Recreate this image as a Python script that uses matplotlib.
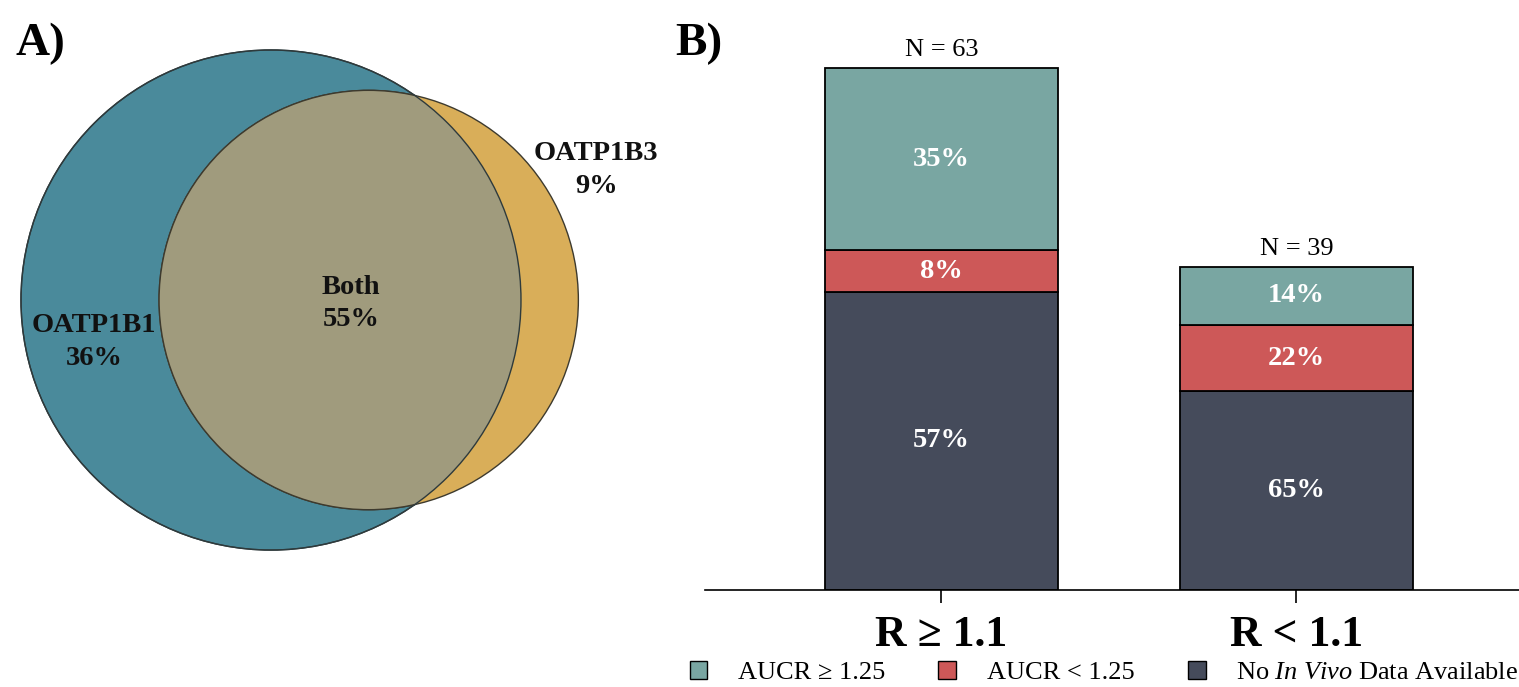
import numpy as np
import matplotlib.pyplot as plt
from matplotlib.patches import Circle, Patch

plt.rcParams['font.family'] = ['Liberation Serif', 'DejaVu Serif']
plt.rcParams['mathtext.fontset'] = 'custom'
plt.rcParams['mathtext.rm'] = 'Liberation Serif'
plt.rcParams['mathtext.it'] = 'Liberation Serif:italic'

# Panel A: Venn data (percent of substrates)
venn_labels = ['OATP1B1', 'Both', 'OATP1B3']
venn_values = [36, 55, 9]
venn_colors = ['#4a8a9b', '#a09b7d', '#d9ae59']

# Panel B: stacked bars (counts per group)
groups = ['R ≥ 1.1', 'R < 1.1']
totals = [63, 39]
series_names = ['AUCR ≥ 1.25', 'AUCR < 1.25', r'No $\mathit{In\ Vivo}$ Data Available']
no_data = [36, 24]
aucr_low = [5, 8]
aucr_high = [22, 7]
pct_no_data = ['57%', '65%']
pct_low = ['8%', '22%']
pct_high = ['35%', '14%']
bar_colors = ['#79a6a2', '#cd5858', '#454b5b']

fig = plt.figure(figsize=(15.19, 6.87), dpi=100)

# ---------- A) Venn ----------
ax1 = fig.add_axes([0, 0, 668/1519, 1])
ax1.set_xlim(-5.834, 8.547)
ax1.set_ylim(-8.33, 6.458)
ax1.axis('off')

a_only, a_both, b_only = venn_values
r1 = np.sqrt((a_only + a_both) / np.pi)
r2 = np.sqrt((b_only + a_both) / np.pi)

def lens_area(d):
    c1 = np.clip((d*d + r1*r1 - r2*r2) / (2*d*r1), -1, 1)
    c2 = np.clip((d*d + r2*r2 - r1*r1) / (2*d*r2), -1, 1)
    k = (-d + r1 + r2) * (d + r1 - r2) * (d - r1 + r2) * (d + r1 + r2)
    return r1*r1*np.arccos(c1) + r2*r2*np.arccos(c2) - 0.5*np.sqrt(max(k, 0))

# find centre distance so the overlap area matches "Both"
lo, hi = abs(r1 - r2) + 1e-6, r1 + r2
for _ in range(80):
    mid = (lo + hi) / 2
    if lens_area(mid) > a_both:
        lo = mid
    else:
        hi = mid
d = (lo + hi) / 2

c_blue = Circle((0, 0), r1, facecolor=venn_colors[0], edgecolor='#2e3a3c', lw=1.0)
c_orange = Circle((d, 0), r2, facecolor=venn_colors[2], edgecolor='#3d3a2e', lw=1.0)
ax1.add_patch(c_blue)
ax1.add_patch(c_orange)
c_both = Circle((d, 0), r2, facecolor=venn_colors[1], edgecolor='#3d3a2e', lw=1.0)
ax1.add_patch(c_both)
c_both.set_clip_path(Circle((0, 0), r1, transform=ax1.transData))
ax1.add_patch(Circle((0, 0), r1, facecolor='none', edgecolor='#2e3a3c', lw=1.0))

vkw = dict(ha='center', va='center', fontsize=20.5, fontweight='bold', linespacing=1.4, color='#111111')
ax1.text(-3.81, -0.90, f'{venn_labels[0]}\n{a_only}%', **vkw)
ax1.text(1.72, -0.075, f'{venn_labels[1]}\n{a_both}%', **vkw)
ax1.text(7.0, 2.8, f'{venn_labels[2]}\n{b_only}%', **vkw)

fig.text(40/1519, 1 - 44/687, 'A)', ha='center', va='center', fontsize=34, fontweight='bold')
fig.text(699/1519, 1 - 44/687, 'B)', ha='center', va='center', fontsize=34, fontweight='bold')

# ---------- B) stacked bars ----------
ax2 = fig.add_axes([705/1519, 97/687, 814/1519, 560/687])
x = np.arange(len(groups))
w = 0.656
ax2.bar(x, no_data, w, color=bar_colors[2], edgecolor='black', lw=1.3)
ax2.bar(x, aucr_low, w, bottom=no_data, color=bar_colors[1], edgecolor='black', lw=1.3)
bot3 = np.array(no_data) + np.array(aucr_low)
ax2.bar(x, aucr_high, w, bottom=bot3, color=bar_colors[0], edgecolor='black', lw=1.3)

tkw = dict(ha='center', va='center', fontsize=20.5, fontweight='bold', color='white')
for i in range(len(groups)):
    ax2.text(x[i], no_data[i] / 2, pct_no_data[i], **tkw)
    ax2.text(x[i], no_data[i] + aucr_low[i] / 2, pct_low[i], **tkw)
    ax2.text(x[i], bot3[i] + aucr_high[i] / 2, pct_high[i], **tkw)
    ax2.annotate(f'N = {totals[i]}', (x[i], totals[i]), xytext=(0, 5),
                 textcoords='offset points', ha='center', va='bottom', fontsize=19)

ax2.set_xlim(-0.666, 1.627)
ax2.set_ylim(0, 67.6)
for s in ['top', 'right', 'left']:
    ax2.spines[s].set_visible(False)
ax2.spines['bottom'].set_linewidth(1.2)
ax2.set_yticks([])
ax2.set_xticks(x)
ax2.set_xticklabels(groups, fontsize=31.5, fontweight='bold')
ax2.tick_params(axis='x', direction='out', length=9, width=1.2, pad=9)

handles = [Patch(facecolor=c, edgecolor='black', lw=1.0) for c in bar_colors]
fig.legend(handles, series_names, loc='center', bbox_to_anchor=(0.7268, 0.021), ncol=3,
           frameon=False, fontsize=19, handlelength=0.68, handleheight=0.68,
           handletextpad=1.17, columnspacing=2.0, borderpad=0.1)

fig.savefig('out.png', dpi=100)
